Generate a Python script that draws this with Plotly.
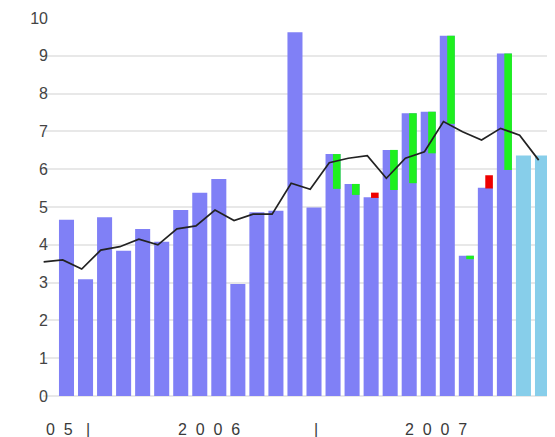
import plotly.graph_objects as go

# ---- data ----
months = ["2005-11", "2005-12",
          "2006-01", "2006-02", "2006-03", "2006-04", "2006-05", "2006-06",
          "2006-07", "2006-08", "2006-09", "2006-10", "2006-11", "2006-12",
          "2007-01", "2007-02", "2007-03", "2007-04", "2007-05", "2007-06",
          "2007-07", "2007-08", "2007-09", "2007-10", "2007-11", "2007-12"]

actual_vals = [4.66, 3.09, 4.73, 3.84, 4.42, 4.08, 4.92, 5.38, 5.74, 2.96,
               4.86, 4.90, 9.62, 4.99, 6.40, 5.61, 5.26, 6.51, 7.48, 7.52,
               9.53, 3.71, 5.51, 9.06, None, None]

forecast_vals = [None] * 24 + [6.36, 6.36]

green_base = [None] * 14 + [5.48, 5.32, None, 5.45, 5.63, 6.42, 7.20, 3.62,
                            None, 5.98, None, None]
green_top = [None] * 14 + [6.40, 5.61, None, 6.51, 7.48, 7.52, 9.53, 3.71,
                           None, 9.06, None, None]

red_base = [None] * 16 + [5.24, None, None, None, None, None, 5.49, None, None, None]
red_top = [None] * 16 + [5.38, None, None, None, None, None, 5.84, None, None, None]

# trend line: one value before the first bar, then one per bar
trend_vals = [3.55, 3.60, 3.36, 3.86, 3.95, 4.15, 4.00, 4.42, 4.50, 4.92,
              4.64, 4.81, 4.81, 5.63, 5.47, 6.17, 6.29, 6.36, 5.76, 6.29,
              6.46, 7.26, 6.99, 6.77, 7.08, 6.90, 6.24]

year_labels = ["0\u00a0\u00a05", "2\u00a0\u00a00\u00a0\u00a00\u00a0\u00a06",
               "2\u00a0\u00a00\u00a0\u00a00\u00a0\u00a07"]

# ---- derived positions ----
x = list(range(1, len(months) + 1))
x_trend = [i - 0.2 for i in range(0, len(trend_vals))]


def diff(top, base):
    return [None if t is None else t - b for t, b in zip(top, base)]


BAR_W = 0.79
OV_W = 0.40
OV_OFF = BAR_W / 2 - OV_W

FONT = "Liberation Sans, Arial, sans-serif"

fig = go.Figure()
fig.add_bar(x=x, y=actual_vals, width=BAR_W, marker_color="#8080f6",
            marker_line_width=0, hoverinfo="skip")
fig.add_bar(x=x, y=forecast_vals, width=BAR_W, marker_color="#87ceea",
            marker_line_width=0, hoverinfo="skip")
fig.add_bar(x=x, y=diff(green_top, green_base), base=green_base, width=OV_W,
            offset=OV_OFF, marker_color="#1ef01e", marker_line_width=0,
            hoverinfo="skip")
fig.add_bar(x=x, y=diff(red_top, red_base), base=red_base, width=OV_W,
            offset=OV_OFF, marker_color="#ee0000", marker_line_width=0,
            hoverinfo="skip")
fig.add_scatter(x=x_trend, y=trend_vals, mode="lines",
                line=dict(color="#222222", width=1.7), hoverinfo="skip")

# year labels under the axis
boundaries = [2.5, 14.5]
label_y = -0.088
annos = []
annos.append(dict(x=0.61, y=label_y, text=year_labels[0]))
for b in boundaries:
    annos.append(dict(x=b - 0.38, y=label_y, text="|"))
annos.append(dict(x=8.5, y=label_y, text=year_labels[1]))
annos.append(dict(x=20.4, y=label_y, text=year_labels[2]))
for a in annos:
    a.update(xref="x", yref="paper", showarrow=False, xanchor="center",
             yanchor="middle", font=dict(family=FONT, size=16, color="#3a3a3a"))

# the page body adds an 8px offset, so the figure is sized to compensate
fig.update_layout(
    width=547, height=429,
    margin=dict(l=35, r=0, t=10, b=41),
    paper_bgcolor="white", plot_bgcolor="white",
    barmode="overlay", showlegend=False,
    font=dict(family=FONT, size=16, color="#444444"),
    annotations=annos,
    xaxis=dict(range=[-0.234, 26.657], showticklabels=False, showgrid=False,
               zeroline=False, showline=False, ticks=""),
    yaxis=dict(range=[0, 10], dtick=1, tick0=0, showgrid=True,
               gridcolor="#e8e8e8", gridwidth=2, zeroline=True,
               zerolinecolor="#e8e8e8", zerolinewidth=2, showline=False,
               ticks="", ticklabelstandoff=-6,
               tickfont=dict(family=FONT, size=16, color="#444444")),
)

fig.write_html("out.html")
